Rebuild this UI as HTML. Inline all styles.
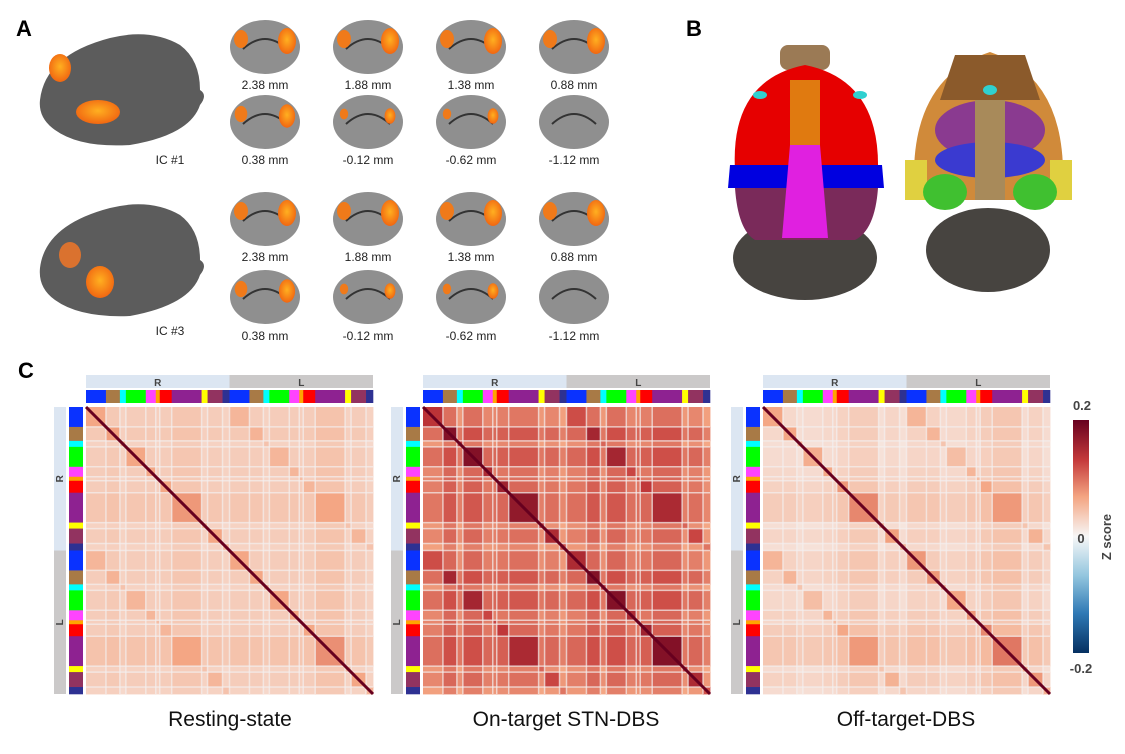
<!DOCTYPE html>
<html><head><meta charset="utf-8">
<style>
html,body{margin:0;padding:0;background:#fff;}
body{width:1125px;height:754px;position:relative;overflow:hidden;font-family:"Liberation Sans",sans-serif;}
.lbl{position:absolute;font-size:12px;color:#222;text-align:center;width:80px;}
.pl{position:absolute;font-weight:bold;font-size:22px;color:#000;}
.title{position:absolute;font-size:21px;color:#111;text-align:center;width:300px;}
</style></head><body>
<div class="pl" style="left:16px;top:16px">A</div>
<div class="pl" style="left:686px;top:16px">B</div>
<div class="pl" style="left:18px;top:358px">C</div>

<svg id="art" width="1125" height="754" style="position:absolute;left:0;top:0">
<defs>
<radialGradient id="org" cx="50%" cy="45%" r="60%"><stop offset="0" stop-color="#ffb020"/><stop offset="1" stop-color="#f06010"/></radialGradient>
<linearGradient id="cbar" x1="0" y1="0" x2="0" y2="1">
<stop offset="0" stop-color="#67001f"/><stop offset="0.17" stop-color="#c4393a"/><stop offset="0.33" stop-color="#f4a582"/><stop offset="0.5" stop-color="#f7f7f7"/><stop offset="0.67" stop-color="#92c5de"/><stop offset="0.83" stop-color="#2f79b5"/><stop offset="1" stop-color="#053061"/>
</linearGradient>
</defs>
<g>
<path d="M40,100 Q45,55 110,38 Q150,28 180,45 Q200,60 200,90 Q208,95 200,105 Q190,135 130,145 Q80,148 55,130 Q38,118 40,100Z" fill="#5c5c5c"/>
<ellipse cx="60" cy="68" rx="11" ry="14" fill="url(#org)"/>
<ellipse cx="98" cy="112" rx="22" ry="12" fill="url(#org)"/>
</g>
<g>
<path d="M40,268 Q45,225 110,208 Q150,198 180,215 Q200,230 200,260 Q208,265 200,275 Q190,305 130,316 Q80,318 55,300 Q38,288 40,268Z" fill="#5c5c5c"/>
<ellipse cx="70" cy="255" rx="11" ry="13" fill="#e8742a" opacity="0.9"/>
<ellipse cx="100" cy="282" rx="14" ry="16" fill="url(#org)"/>
</g>
<g id="slices"></g>
<g>
<ellipse cx="805" cy="258" rx="72" ry="42" fill="#474440"/>
<rect x="780" y="45" width="50" height="25" rx="8" fill="#9b7a55"/>
<path d="M735,170 Q730,80 805,65 Q880,80 878,170Z" fill="#e60000"/>
<rect x="790" y="80" width="30" height="65" fill="#e07a10"/>
<path d="M730,165 L882,165 L884,188 L728,188Z" fill="#0000e0"/>
<path d="M735,188 L878,188 Q875,230 855,240 L755,240 Q738,230 735,188Z" fill="#7a2a5a"/>
<path d="M790,145 L820,145 L828,238 L782,238Z" fill="#e020e0"/>
<ellipse cx="760" cy="95" rx="7" ry="4" fill="#30d0d0"/><ellipse cx="860" cy="95" rx="7" ry="4" fill="#30d0d0"/>
</g>
<g>
<ellipse cx="988" cy="250" rx="62" ry="42" fill="#474440"/>
<path d="M915,200 Q905,80 990,52 Q1072,80 1062,200Z" fill="#d08a3a"/>
<path d="M955,55 L1025,55 L1040,100 L940,100Z" fill="#8b5a2b"/>
<ellipse cx="990" cy="130" rx="55" ry="30" fill="#8a3a90"/>
<ellipse cx="990" cy="160" rx="55" ry="18" fill="#3a3ad0"/>
<rect x="905" y="160" width="22" height="40" fill="#e0d040"/><rect x="1050" y="160" width="22" height="40" fill="#e0d040"/>
<ellipse cx="945" cy="192" rx="22" ry="18" fill="#40c030"/><ellipse cx="1035" cy="192" rx="22" ry="18" fill="#40c030"/>
<rect x="975" y="100" width="30" height="100" fill="#a88a5a"/>
<ellipse cx="990" cy="90" rx="7" ry="5" fill="#30d0d0"/>
</g>
<g id="mats"></g>
<rect x="1073" y="420" width="16" height="233" fill="url(#cbar)"/>
<text x="1082" y="410" font-size="13" font-weight="bold" text-anchor="middle" fill="#444">0.2</text>
<text x="1081" y="543" font-size="13" font-weight="bold" text-anchor="middle" fill="#444">0</text>
<text x="1081" y="673" font-size="13" font-weight="bold" text-anchor="middle" fill="#444">-0.2</text>
<text x="1111" y="537" font-size="13" font-weight="bold" text-anchor="middle" fill="#444" transform="rotate(-90 1111 537)">Z score</text>
</svg>

<div class="lbl" style="left:130px;top:153px">IC #1</div>
<div class="lbl" style="left:130px;top:324px">IC #3</div>
<div class="title" style="left:80px;top:708px">Resting-state</div>
<div class="title" style="left:416px;top:708px">On-target STN-DBS</div>
<div class="title" style="left:756px;top:708px">Off-target-DBS</div>

<script>
const NS='http://www.w3.org/2000/svg';
const sliceLabels=['2.38 mm','1.88 mm','1.38 mm','0.88 mm','0.38 mm','-0.12 mm','-0.62 mm','-1.12 mm'];
const regionSizes=[20,14,6,20,10,4,12,30,6,15,7];
const regionColors=['#0a32ff','#a87a46','#00ffff','#00ff00','#ff44ff','#ffa500','#ff0000','#8e2291','#ffff00','#923360','#2e3192'];
const restStrength=[0.035,0.04,0.025,0.035,0.035,0.03,0.035,0.045,0.025,0.035,0.025, 0.035,0.035,0.025,0.035,0.035,0.03,0.035,0.05,0.025,0.035,0.025];
const onStrength=[0.08,0.12,0.07,0.12,0.09,0.09,0.10,0.11,0.07,0.09,0.06, 0.09,0.12,0.07,0.12,0.09,0.09,0.10,0.12,0.07,0.09,0.06];
const offStrength=[0.025,0.025,0.015,0.02,0.025,0.025,0.035,0.045,0.015,0.03,0.015, 0.035,0.035,0.02,0.025,0.035,0.025,0.045,0.055,0.02,0.035,0.02];
const diagBoost=[0.03,0.06,0.04];
const vmin=-0.2,vmax=0.2;
const stops=[[5,48,97],[47,121,181],[146,197,222],[247,247,247],[244,165,130],[196,57,58],[103,0,31]];
function color(v){let t=(Math.max(vmin,Math.min(vmax,v))-vmin)/(vmax-vmin)*(stops.length-1);
 let i=Math.min(stops.length-2,Math.floor(t)),f=t-i;const a=stops[i],b=stops[i+1];
 return 'rgb('+a.map((c,k)=>Math.round(c+(b[k]-c)*f)).join(',')+')';}
function el(t,at,p){const e=document.createElementNS(NS,t);for(const k in at)e.setAttribute(k,at[k]);p.appendChild(e);return e;}

const sg=document.getElementById('slices');
const colX=[265,368,471,574],rowY=[47,122,219,297],labY=[85,160,257,336];
for(let r=0;r<4;r++)for(let c=0;c<4;c++){
 const g=el('g',{},sg);
 
 
 el('ellipse',{cx:colX[c],cy:rowY[r],rx:35,ry:27,fill:'#8f8f8f'},g);
 el('path',{d:`M${colX[c]-22},${rowY[r]+2} Q${colX[c]},${rowY[r]-18} ${colX[c]+22},${rowY[r]+2}`,stroke:'#333',fill:'none','stroke-width':2},g);
 const k=(r%2)*4+c;
 if(k<7){const s=k<4?1:(k===4?0.9:0.6);
  el('ellipse',{cx:colX[c]+22,cy:rowY[r]-6,rx:9*s,ry:13*s,fill:'url(#org)'},g);
  el('ellipse',{cx:colX[c]-24,cy:rowY[r]-8,rx:7*s,ry:9*s,fill:'#f07a1a'},g);}
 const t=el('text',{x:colX[c],y:labY[r]+4,'font-size':12,'text-anchor':'middle',fill:'#222'},sg);
 t.textContent=sliceLabels[(r%2)*4+c];
 
 
}

const mats=document.getElementById('mats');
const conds=[restStrength,onStrength,offStrength];
const mx=[86,423,763],my=407,ms=287;
const sizes=regionSizes.concat(regionSizes),cols=regionColors.concat(regionColors);
const tot=sizes.reduce((a,b)=>a+b,0);
const edges=[0];sizes.forEach(s=>edges.push(edges[edges.length-1]+s));
conds.forEach((S,m)=>{
 const x0=mx[m],sc=ms/tot;
 const g=el('g',{},mats);
 
 
 const hr=el('rect',{x:x0,y:375,width:ms/2,height:13,fill:'#dce6f2'},g);
 
 
 const hl=el('rect',{x:x0+ms/2,y:375,width:ms/2,height:13,fill:'#cbc9c9'},g);
 
 
 [['R',x0+ms/4],['L',x0+3*ms/4]].forEach(([t,x])=>{const tx=el('text',{x:x,y:386,'font-size':10,'font-weight':'bold','text-anchor':'middle',fill:'#444'},g);tx.textContent=t;
  
  });
 el('rect',{x:x0-32,y:my,width:12,height:ms/2,fill:'#dce6f2'},g);
 el('rect',{x:x0-32,y:my+ms/2,width:12,height:ms/2,fill:'#cbc9c9'},g);
 [['R',my+ms/4],['L',my+3*ms/4]].forEach(([t,y])=>{const tx=el('text',{x:x0-23,y:y,'font-size':10,'font-weight':'bold','text-anchor':'middle',fill:'#444',transform:`rotate(-90 ${x0-23} ${y})`},g);tx.textContent=t;});
 for(let i=0;i<sizes.length;i++){
  const a=el('rect',{x:x0+edges[i]*sc,y:390,width:sizes[i]*sc+0.3,height:13,fill:cols[i]},g);
  
  
  const b=el('rect',{x:x0-17,y:my+edges[i]*sc,width:14,height:sizes[i]*sc+0.3,fill:cols[i]},g);
  
  
 }
 for(let i=0;i<sizes.length;i++)for(let j=0;j<sizes.length;j++){
  let v=(S[i]+S[j])/2;
  if(i===j)v+=diagBoost[m];
  if(Math.abs(i-j)===11)v+=diagBoost[m]*0.6;
  const c=el('rect',{x:x0+edges[j]*sc,y:my+edges[i]*sc,width:sizes[j]*sc+0.4,height:sizes[i]*sc+0.4,fill:color(v)},g);
  
  
 }
 for(let i=1;i<sizes.length;i++){
  const p=edges[i]*sc;
  el('line',{x1:x0+p,y1:my,x2:x0+p,y2:my+ms,stroke:'#f4f0f0','stroke-width':1.5,opacity:0.7},g);
  el('line',{x1:x0,y1:my+p,x2:x0+ms,y2:my+p,stroke:'#f4f0f0','stroke-width':1.5,opacity:0.7},g);
 }
 const d=el('line',{x1:x0,y1:my,x2:x0+ms,y2:my+ms,stroke:color(0.2),'stroke-width':3},g);
 
 
});
</script>
</body></html>
